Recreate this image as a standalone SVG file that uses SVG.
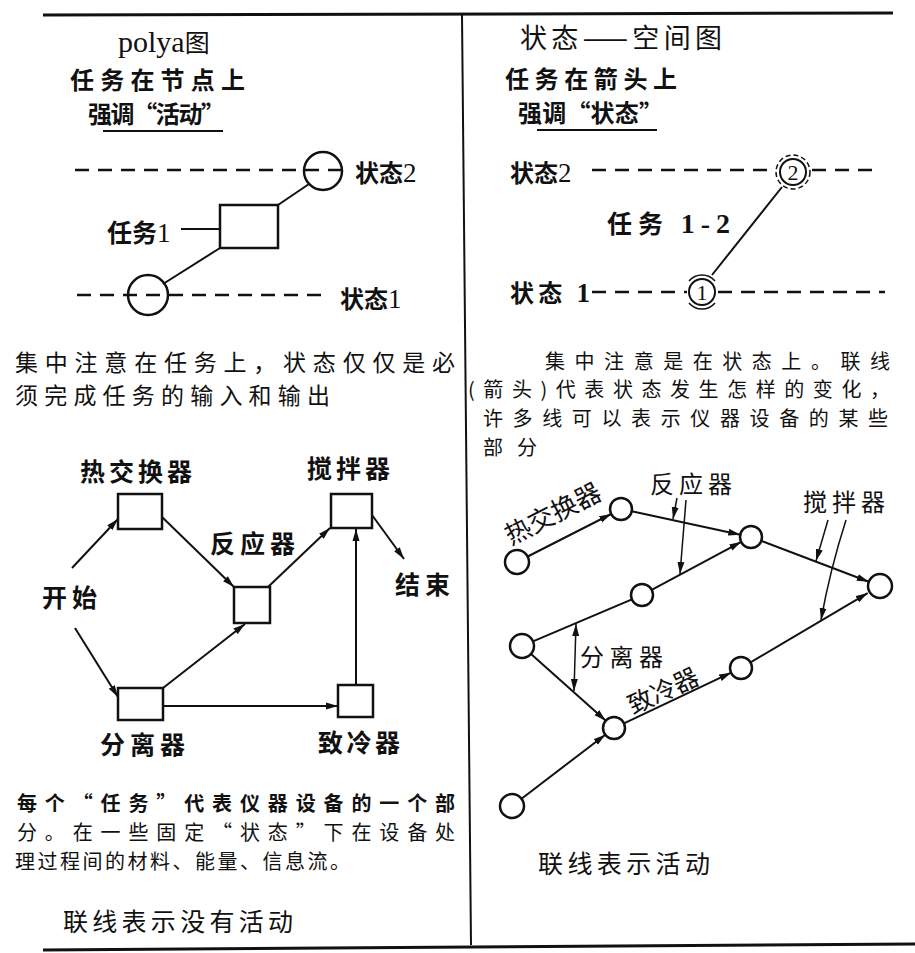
<svg xmlns="http://www.w3.org/2000/svg" width="915" height="953" viewBox="0 0 915 953">
<style>
.t{font-family:"Noto Sans CJK SC","Noto Sans CJK JP",sans-serif;fill:#111}
.s{font-family:"Liberation Serif","Noto Sans CJK SC",serif;fill:#111}
.b{font-weight:bold}
.ln{stroke:#111;stroke-width:2;fill:none}
.ar{stroke:#111;stroke-width:2;fill:none;marker-end:url(#ah)}
.box{fill:#fff;stroke:#111;stroke-width:2.5}
.cir{fill:#fff;stroke:#111;stroke-width:2.5}
.dash{stroke:#111;stroke-width:2.5;stroke-dasharray:14 9;fill:none}
.frame{stroke:#111;stroke-width:3;fill:none}
</style>
<defs>
<marker id="ah" markerUnits="userSpaceOnUse" markerWidth="13" markerHeight="8" refX="12" refY="4" orient="auto">
<path d="M0,0.5 L12,4 L0,7.5 z" fill="#111"/>
</marker>
<marker id="ahs" markerUnits="userSpaceOnUse" markerWidth="13" markerHeight="8" refX="12" refY="4" orient="auto-start-reverse">
<path d="M0,0.5 L12,4 L0,7.5 z" fill="#111"/>
</marker>
</defs>
<rect width="915" height="953" fill="#fff"/>

<g id="frame">
<line class="frame" x1="43" y1="15" x2="893" y2="13"/>
<line x1="462" y1="15" x2="471" y2="945" stroke="#111" stroke-width="2"/>
<line class="frame" x1="43" y1="950" x2="915" y2="944"/>
</g>

<g id="polya-head">
<text class="s" x="118" y="52" font-size="30">polya<tspan class="t" font-size="25">图</tspan></text>
<text class="t b" x="70" y="89" font-size="24" textLength="175">任务在节点上</text>
<text class="t b" x="88" y="123" font-size="24" textLength="137">强调“活动”</text>
<line x1="103" y1="131" x2="223" y2="131" stroke="#111" stroke-width="2"/>
</g>
<g id="polya-states">
<line class="dash" x1="75" y1="170" x2="350" y2="170"/>
<line class="dash" x1="77" y1="295" x2="322" y2="295"/>
</g>
<g id="polya-connectors">
<line class="ln" x1="278" y1="205" x2="309" y2="184"/>
<line class="ln" x1="220" y1="248" x2="163" y2="284"/>
<line class="ln" x1="181" y1="229" x2="220" y2="229"/>
</g>
<g id="state2-left">
<circle cx="323" cy="171" r="19" fill="none" stroke="#111" stroke-width="2.5"/>
<text class="t b" x="355" y="182" font-size="24">状态<tspan class="s" font-weight="normal" font-size="27">2</tspan></text>
</g>
<g id="task1-left">
<rect class="box" x="220" y="205" width="58" height="43"/>
<text class="t b" x="107" y="242" font-size="25">任务<tspan class="s" font-weight="normal" font-size="27">1</tspan></text>
</g>
<g id="state1-left">
<circle cx="148" cy="295" r="20" fill="none" stroke="#111" stroke-width="2.5"/>
<text class="t b" x="340" y="308" font-size="24">状态<tspan class="s" font-weight="normal" font-size="27">1</tspan></text>
</g>

<g id="ss-head">
<text class="t" x="520" y="48" font-size="27" textLength="202">状态——空间图</text>
<text class="t b" x="505" y="88" font-size="24" textLength="172">任务在箭头上</text>
<text class="t b" x="518" y="122" font-size="24" textLength="145">强调“状态”</text>
<line x1="537" y1="130" x2="657" y2="130" stroke="#111" stroke-width="2"/>
</g>
<g id="ss-states">
<line class="dash" x1="592" y1="170" x2="776" y2="170"/>
<line class="dash" x1="812" y1="170" x2="877" y2="170"/>
<line class="dash" x1="592" y1="292" x2="687" y2="292"/>
<line class="dash" x1="718" y1="292" x2="885" y2="292"/>
<line class="ln" x1="782" y1="187" x2="712" y2="275"/>
</g>
<g id="state2-right">
<circle cx="793" cy="172" r="13" fill="#fff" stroke="#111" stroke-width="2"/>
<circle cx="793" cy="172" r="17" fill="none" stroke="#111" stroke-width="1.5" stroke-dasharray="5 3"/>
<text class="s" x="793" y="180" font-size="22" text-anchor="middle">2</text>
<text class="t b" x="510" y="182" font-size="24">状态<tspan class="s" font-weight="normal" font-size="27">2</tspan></text>
</g>
<g id="task12-right">
<text class="t b" x="607" y="233" font-size="25" textLength="123">任务 <tspan class="s" font-weight="bold" font-size="28">1-2</tspan></text>
</g>
<g id="state1-right">
<circle cx="702" cy="292" r="13" fill="#fff" stroke="#111" stroke-width="2"/>
<path d="M689,281 A17,17 0 0 1 715,281 M689,303 A17,17 0 0 0 715,303" fill="none" stroke="#111" stroke-width="1.5"/>
<text class="s" x="702" y="300" font-size="22" text-anchor="middle">1</text>
<text class="t b" x="510" y="302" font-size="24" textLength="80">状态 <tspan class="s" font-weight="bold" font-size="27">1</tspan></text>
</g>

<g id="desc-left">
<text class="t" x="15" y="371" font-size="23" textLength="440">集中注意在任务上，状态仅仅是必</text>
<text class="t" x="15" y="404" font-size="23" textLength="315">须完成任务的输入和输出</text>
</g>
<g id="desc-right">
<text class="t" x="545" y="369" font-size="20" textLength="345">集中注意是在状态上。联线</text>
<text class="t" x="468" y="397" font-size="20" textLength="422">(箭头)代表状态发生怎样的变化，</text>
<text class="t" x="483" y="426" font-size="20" textLength="405">许多线可以表示仪器设备的某些</text>
<text class="t" x="483" y="455" font-size="20" textLength="54">部分</text>
</g>

<g id="left-connectors">
<line class="ar" x1="72" y1="568" x2="118" y2="519"/>
<line class="ar" x1="162" y1="517" x2="234" y2="587"/>
<line class="ar" x1="268" y1="587" x2="330" y2="528"/>
<line class="ar" x1="372" y1="515" x2="404" y2="559"/>
<line class="ar" x1="75" y1="628" x2="118" y2="697"/>
<line class="ar" x1="163" y1="688" x2="245" y2="624"/>
<line class="ar" x1="163" y1="706" x2="338" y2="706"/>
<line class="ar" x1="356" y1="685" x2="356" y2="529"/>
</g>
<g id="l-start"><text class="t b" x="42" y="607" font-size="25" textLength="55">开始</text></g>
<g id="l-heat">
<rect class="box" x="118" y="494" width="44" height="35"/>
<text class="t b" x="80" y="481" font-size="25" textLength="112">热交换器</text>
</g>
<g id="l-react">
<rect class="box" x="234" y="587" width="36" height="36"/>
<text class="t b" x="210" y="553" font-size="25" textLength="85">反应器</text>
</g>
<g id="l-stir">
<rect class="box" x="331" y="494" width="41" height="34"/>
<text class="t b" x="307" y="478" font-size="25" textLength="83">搅拌器</text>
</g>
<g id="l-end"><text class="t b" x="395" y="594" font-size="25" textLength="55">结束</text></g>
<g id="l-sep">
<rect class="box" x="118" y="688" width="45" height="32"/>
<text class="t b" x="100" y="754" font-size="25" textLength="85">分离器</text>
</g>
<g id="l-cool">
<rect class="box" x="338" y="685" width="35" height="32"/>
<text class="t b" x="318" y="752" font-size="25" textLength="82">致冷器</text>
</g>

<g id="right-connectors">
<line class="ar" x1="527.7" y1="556.5" x2="611.2" y2="514"/>
<line class="ar" x1="631.7" y1="511.3" x2="740.3" y2="534.7"/>
<line class="ar" x1="651.7" y1="589.8" x2="741.3" y2="541.8"/>
<line class="ln" x1="533" y1="641.3" x2="631.9" y2="599.3"/>
<line class="ar" x1="761.3" y1="540.9" x2="868.8" y2="581.7"/>
<line class="ar" x1="531" y1="654" x2="605.8" y2="720.7"/>
<line class="ar" x1="521.5" y1="798.7" x2="605.3" y2="734.7"/>
<line class="ar" x1="624" y1="723.3" x2="731.1" y2="672.7"/>
<line class="ar" x1="750.5" y1="662.4" x2="867.7" y2="593.1"/>
<line x1="677" y1="498" x2="673" y2="519" stroke="#111" stroke-width="1.5" marker-end="url(#ah)"/>
<line x1="686" y1="500" x2="680" y2="574" stroke="#111" stroke-width="1.5" marker-end="url(#ah)"/>
<line x1="828" y1="520" x2="816" y2="561" stroke="#111" stroke-width="1.5" marker-end="url(#ah)"/>
<path d="M846,520 Q830,570 821,620" fill="none" stroke="#111" stroke-width="1.5" marker-end="url(#ah)"/>
<line x1="576" y1="624" x2="574" y2="691" stroke="#111" stroke-width="1.5" marker-start="url(#ahs)" marker-end="url(#ah)"/>
</g>
<g id="r-n1"><circle class="cir" cx="517" cy="562" r="12"/></g>
<g id="r-n2"><circle class="cir" cx="621" cy="509" r="11"/></g>
<g id="r-n3"><circle class="cir" cx="751" cy="537" r="11"/></g>
<g id="r-n4"><circle class="cir" cx="642" cy="595" r="11"/></g>
<g id="r-n5"><circle class="cir" cx="522" cy="646" r="12"/></g>
<g id="r-n6"><circle class="cir" cx="880" cy="586" r="12"/></g>
<g id="r-n7"><circle class="cir" cx="741" cy="668" r="11"/></g>
<g id="r-n8"><circle class="cir" cx="614" cy="728" r="11"/></g>
<g id="r-n9"><circle class="cir" cx="512" cy="806" r="12"/></g>
<g id="r-labels">
<text class="t" x="557" y="522" font-size="26" text-anchor="middle" transform="rotate(-27 557 522)">热交换器</text>
<text class="t" x="650" y="493" font-size="24" textLength="82">反应器</text>
<text class="t" x="803" y="511" font-size="24" textLength="82">搅拌器</text>
<text class="t" x="580" y="666" font-size="24" textLength="83">分离器</text>
<text class="t" x="667" y="699" font-size="25" text-anchor="middle" transform="rotate(-25 667 699)">致冷器</text>
</g>

<g id="foot-left">
<text class="t b" x="17" y="811" font-size="20" textLength="438">每个“任务”代表仪器设备的一个部</text>
<text class="t" x="17" y="840" font-size="20" textLength="438">分。在一些固定“状态”下在设备处</text>
<text class="t" x="15" y="869" font-size="20" textLength="335">理过程间的材料、能量、信息流。</text>
<text class="t" x="63" y="931" font-size="25" textLength="230">联线表示没有活动</text>
</g>
<g id="foot-right">
<text class="t" x="538" y="873" font-size="25" textLength="172">联线表示活动</text>
</g>
</svg>
